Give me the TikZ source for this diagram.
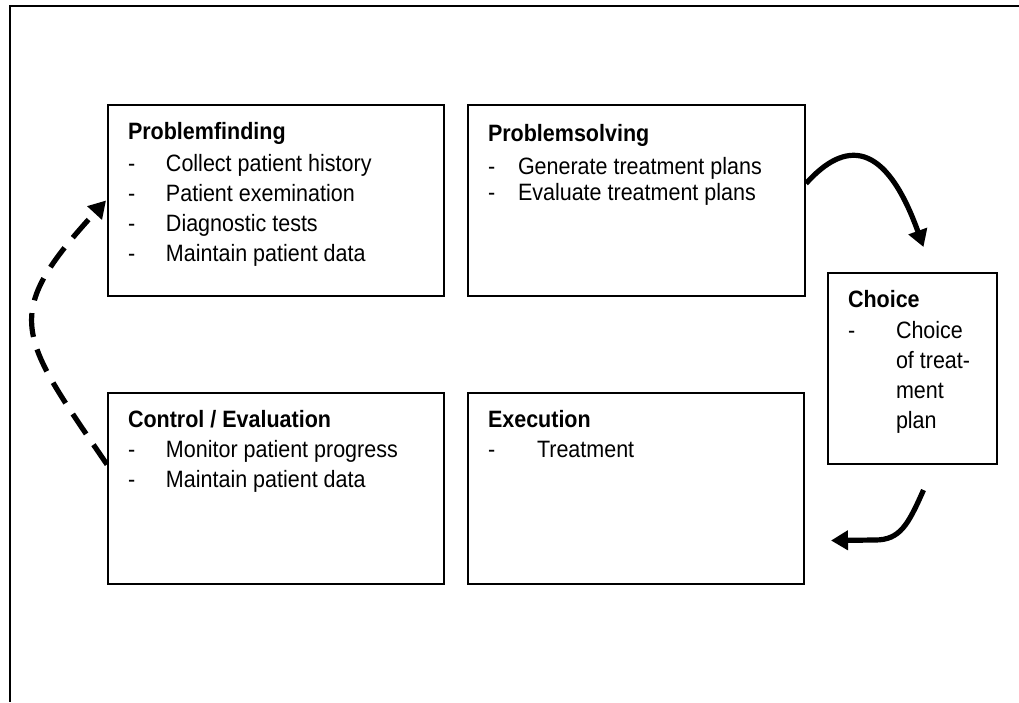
\documentclass[tikz,border=0pt]{standalone}
\usepackage{fontspec}
\setmainfont{Liberation Sans}
\usetikzlibrary{arrows.meta,calc}
\tikzset{
  box/.style={draw=black, line width=2pt, anchor=north west, inner sep=0pt, fill=none},
  txt/.style={anchor=base west, inner sep=0pt, outer sep=0pt, align=left},
  flow/.style={line width=5.2pt, -{Triangle[length=17pt,width=19pt]}},
  back/.style={line width=5.2pt, dash pattern=on 24pt off 13pt, -{Triangle[length=17pt,width=19pt]}},
  frame/.style={line width=2.2pt}
}
\newcommand{\boxfont}{\fontsize{21.5}{27.3}\selectfont}
\newcommand{\tall}[1]{\scalebox{1}[1.1]{#1}}
\begin{document}
\begin{tikzpicture}[x=1pt,y=-1pt]
\useasboundingbox (0,0) rectangle (1019,702);
% outer frame (only top and left visible)
\coordinate (fr1) at (1019,6);
\coordinate (fr2) at (10,6);
\coordinate (fr3) at (10,702);
\draw[frame] (fr1) -- (fr2) -- (fr3);

% boxes
\node[box, minimum width=336pt, minimum height=191pt] (pf) at (107,104) {};
\node[box, minimum width=337pt, minimum height=191pt] (ps) at (467,104) {};
\node[box, minimum width=169pt, minimum height=191pt] (ch) at (827,272) {};
\node[box, minimum width=336pt, minimum height=191pt] (ce) at (107,392) {};
\node[box, minimum width=336pt, minimum height=191pt] (ex) at (467,392) {};

% texts
\node[txt] (pft) at ($(pf.north west)+(21,35)$) {\tall{\boxfont
\begin{tabular}[t]{@{}p{38pt}@{}l@{}}
\multicolumn{2}{@{}l@{}}{\textbf{Problemfinding}}\\[1.8pt]
- & Collect patient history\\
- & Patient exemination\\
- & Diagnostic tests\\
- & Maintain patient data
\end{tabular}}};

\node[txt] (pst) at ($(ps.north west)+(21,37)$) {\tall{\fontsize{21.5}{23.6}\selectfont
\begin{tabular}[t]{@{}p{30pt}@{}l@{}}
\multicolumn{2}{@{}l@{}}{\textbf{Problemsolving}}\\[7.3pt]
- & Generate treatment plans\\
- & Evaluate treatment plans
\end{tabular}}};

\node[txt] (cht) at ($(ch.north west)+(21,35)$) {\tall{\boxfont
\begin{tabular}[t]{@{}p{48pt}@{}l@{}}
\multicolumn{2}{@{}l@{}}{\textbf{Choice}}\\[0.9pt]
- & Choice\\
  & of treat-\\
  & ment\\
  & plan
\end{tabular}}};

\node[txt] (cet) at ($(ce.north west)+(21,35)$) {\tall{\boxfont
\begin{tabular}[t]{@{}p{38pt}@{}l@{}}
\multicolumn{2}{@{}l@{}}{\textbf{Control / Evaluation}}\\
- & Monitor patient progress\\
- & Maintain patient data
\end{tabular}}};

\node[txt] (ext) at ($(ex.north west)+(21,35)$) {\tall{\boxfont
\begin{tabular}[t]{@{}p{49pt}@{}l@{}}
\multicolumn{2}{@{}l@{}}{\textbf{Execution}}\\
- & Treatment
\end{tabular}}};

% arrows
\coordinate (a1) at ($(ch.north)+(11,-25)$);
\draw[flow] ($(ps.east)+(0,-17)$) .. controls (845,140) and (885,140) .. (a1);

\coordinate (a2s) at ($(ch.south)+(11,25)$);
\coordinate (a2e) at ($(ex.east)+(26,52)$);
\draw[flow] (a2s) .. controls (908,525) and (900,540) .. (875,540) -- (a2e);

\coordinate (a3s) at ($(ce.west)+(0,-24)$);
\coordinate (a3e) at ($(pf.west)+(-1,0)$);
\draw[back] (a3s) .. controls (18,334) and (0,316) .. (a3e);
\end{tikzpicture}
\end{document}
